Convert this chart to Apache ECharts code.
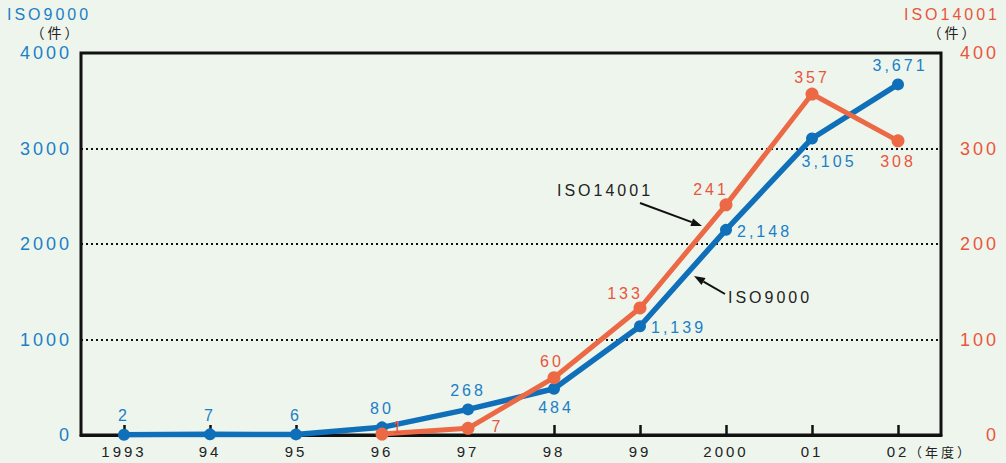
<!DOCTYPE html>
<html>
<head>
<meta charset="utf-8">
<script src="https://cdn.jsdelivr.net/npm/echarts@6/dist/echarts.min.js"></script>
<style>
  html, body { margin: 0; padding: 0; background: #eef5ed; }
  #chart { width: 1006px; height: 463px; }
  #chart svg text { letter-spacing: 3px; }
</style>
</head>
<body>
<div id="chart"></div>
<script>
// Fiscal years on the x axis
const years = ['1993', '94', '95', '96', '97', '98', '99', '2000', '01', '02'];
// Certified organisations (件)
const iso9000 = [2, 7, 6, 80, 268, 484, 1139, 2148, 3105, 3671];
const iso14001 = [null, null, null, 1, 7, 60, 133, 241, 357, 308];
// Left and right axis ranges
const leftTicks = [0, 1000, 2000, 3000, 4000];
const rightTicks = [0, 100, 200, 300, 400];

// Where each value label sits relative to its point
const iso9000LabelPos = ['top', 'top', 'top', 'top', 'top', 'bottom', 'right', 'right', 'bottom', 'top'];
const iso9000LabelOffset = [[0, 0], [0, 0], [0, 0], [0, 0], [0, 0], [2, 0], [0, 1], [0, 2], [17, 4], [2, 0]];
const iso14001LabelPos = [null, null, null, 'right', 'right', 'top', 'top', 'top', 'top', 'bottom'];
const iso14001LabelOffset = [null, null, null, [-1, -7], [12, -2], [-2, 3], [-15, 5], [-15, 4], [0, 3], [0, 1]];

const BLUE = '#0f70b9';
const BLUE_TEXT = '#1b7fc6';
const ORANGE = '#ec6945';
const ORANGE_TEXT = '#e9553c';
const INK = '#222';
const FONT = '"Liberation Sans", Arial, "Noto Sans CJK JP", sans-serif';
const CJK = '"Noto Sans CJK JP", sans-serif';

const fmt = v => Number(v).toLocaleString('en-US');

function buildData(values, pos, offs, color) {
  return values.map((v, i) => {
    if (v === null) return null;
    return {
      value: v,
      label: {
        show: true,
        position: pos[i],
        offset: offs[i],
        distance: 5,
        color: color,
        fontSize: 16,
        fontFamily: FONT,
        formatter: p => fmt(p.value)
      }
    };
  });
}

function arrow(x1, y1, x2, y2) {
  const dx = x2 - x1, dy = y2 - y1;
  const len = Math.hypot(dx, dy);
  const ux = dx / len, uy = dy / len;
  const bx = x2 - ux * 11, by = y2 - uy * 11;
  const px = -uy * 4, py = ux * 4;
  return [
    { type: 'line', shape: { x1, y1, x2: bx, y2: by }, style: { stroke: '#111', lineWidth: 2 }, z: 20 },
    { type: 'polygon', shape: { points: [[x2, y2], [bx + px, by + py], [bx - px, by - py]] }, style: { fill: '#111' }, z: 20 }
  ];
}

const chart = echarts.init(document.getElementById('chart'), null, { renderer: 'svg' });

chart.setOption({
  backgroundColor: '#eef5ed',
  animation: false,
  grid: {
    left: 81, right: 65, top: 53, bottom: 28,
    show: true, borderColor: '#111', borderWidth: 3, backgroundColor: 'transparent'
  },
  xAxis: {
    type: 'category',
    data: years,
    boundaryGap: true,
    axisLine: { show: true, lineStyle: { color: '#111', width: 3 } },
    axisTick: { show: true, inside: true, alignWithLabel: true, length: 10, lineStyle: { color: '#111', width: 2.5 } },
    axisLabel: { color: INK, fontSize: 15, fontFamily: FONT, margin: 9 }
  },
  yAxis: [
    {
      type: 'value',
      min: leftTicks[0], max: leftTicks[leftTicks.length - 1], interval: leftTicks[1] - leftTicks[0],
      axisLine: { show: false },
      axisTick: { show: false },
      axisLabel: { color: BLUE_TEXT, fontSize: 18, fontFamily: FONT, margin: 9, formatter: v => String(v), verticalAlign: 'middle' },
      splitLine: { show: true, lineStyle: { color: '#111', width: 2, type: [2, 3] } }
    },
    {
      type: 'value',
      min: rightTicks[0], max: rightTicks[rightTicks.length - 1], interval: rightTicks[1] - rightTicks[0],
      axisLine: { show: false },
      axisTick: { show: false },
      axisLabel: { color: ORANGE_TEXT, fontSize: 18, fontFamily: FONT, margin: 58, align: 'right', formatter: v => String(v) },
      splitLine: { show: false }
    }
  ],
  series: [
    {
      name: 'ISO9000',
      type: 'line',
      yAxisIndex: 0,
      data: buildData(iso9000, iso9000LabelPos, iso9000LabelOffset, BLUE_TEXT),
      symbol: 'circle',
      symbolSize: 12,
      itemStyle: { color: BLUE },
      lineStyle: { color: BLUE, width: 5.5 },
      z: 3
    },
    {
      name: 'ISO14001',
      type: 'line',
      yAxisIndex: 1,
      data: buildData(iso14001, iso14001LabelPos, iso14001LabelOffset, ORANGE_TEXT),
      symbol: 'circle',
      symbolSize: 13,
      itemStyle: { color: ORANGE },
      lineStyle: { color: ORANGE, width: 5 },
      connectNulls: false,
      z: 4
    }
  ],
  graphic: [
    { type: 'text', left: 7, top: 6, style: { text: 'ISO9000', fill: BLUE_TEXT, font: '16px ' + FONT } },
    { type: 'text', x: 56, y: 32, style: { text: '（件）', fill: INK, font: '14px ' + CJK, align: 'center', verticalAlign: 'middle' } },
    { type: 'text', x: 1000, y: 14, style: { text: 'ISO14001', fill: ORANGE_TEXT, font: '16px ' + FONT, align: 'right', verticalAlign: 'middle' } },
    { type: 'text', x: 953, y: 32, style: { text: '（件）', fill: INK, font: '14px ' + CJK, align: 'center', verticalAlign: 'middle' } },
    { type: 'text', x: 909, y: 451, style: { text: '（年度）', fill: INK, font: '13px ' + CJK, align: 'left', verticalAlign: 'middle' } },
    { type: 'text', x: 557, y: 190, style: { text: 'ISO14001', fill: INK, font: '16px ' + FONT, align: 'left', verticalAlign: 'middle' } },
    { type: 'text', x: 728, y: 297, style: { text: 'ISO9000', fill: INK, font: '16px ' + FONT, align: 'left', verticalAlign: 'middle' } },
    ...arrow(640, 203, 702, 226),
    ...arrow(725, 294, 694, 276)
  ]
});
</script>
</body>
</html>
